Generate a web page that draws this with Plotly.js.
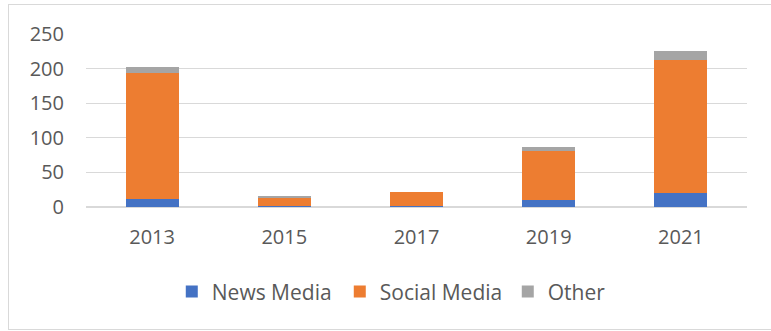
<!DOCTYPE html>
<html>
<head>
<meta charset="utf-8">
<script src="https://cdn.plot.ly/plotly-3.0.1.min.js"></script>
<style>
  html, body { margin: 0; padding: 0; background: #ffffff; overflow: hidden; }
  #wrap { position: relative; width: 771px; height: 331px; }
  #chart { position: absolute; left: 0; top: 0; width: 771px; height: 331px; }
  #frame { position: absolute; left: 8px; top: 4px; width: 800px; height: 326px;
           border: 1.5px solid #d9d9d9; pointer-events: none; box-sizing: border-box; }
</style>
</head>
<body>
<div id="wrap">
  <div id="chart"></div>
  <div id="frame"></div>
</div>
<script>
const years = ['2013', '2015', '2017', '2019', '2021'];
const newsMedia = [12, 1, 2, 10, 20];
const socialMedia = [181, 12, 19, 71, 193];
const other = [10, 3, 1, 5, 13];
const yTicks = [0, 50, 100, 150, 200, 250];

const font = 'Open Sans, Noto Sans, sans-serif';
const textColor = '#595959';

const traces = [
  { type: 'bar', name: 'News Media', x: years, y: newsMedia, marker: { color: '#4472C4' } },
  { type: 'bar', name: 'Social Media', x: years, y: socialMedia, marker: { color: '#ED7D31' } },
  { type: 'bar', name: 'Other', x: years, y: other, marker: { color: '#A5A5A5' } }
];

const layout = {
  width: 771,
  height: 331,
  barmode: 'stack',
  bargap: 0.6,
  margin: { l: 86, r: 24, t: 34, b: 124, pad: 0 },
  paper_bgcolor: '#ffffff',
  plot_bgcolor: '#ffffff',
  font: { family: font, size: 20, color: textColor },
  showlegend: true,
  legend: {
    orientation: 'h',
    xref: 'container', yref: 'container',
    x: 0.2228, xanchor: 'left',
    y: 0.118, yanchor: 'middle',
    entrywidth: 123,
    entrywidthmode: 'pixels',
    font: { family: font, size: 21, color: textColor },
    traceorder: 'normal',
    itemclick: false
  },
  xaxis: {
    type: 'category',
    showgrid: false,
    showline: false,
    zeroline: false,
    ticks: '',
    ticklabelstandoff: 16,
    tickfont: { family: font, size: 20, color: textColor },
    fixedrange: true
  },
  yaxis: {
    range: [0, 250],
    tickvals: yTicks,
    ticktext: yTicks.map(String),
    showgrid: true,
    gridcolor: '#d9d9d9',
    gridwidth: 1.3,
    zeroline: true,
    zerolinecolor: '#d9d9d9',
    zerolinewidth: 1.3,
    showline: false,
    ticks: '',
    ticklabelstandoff: 21,
    tickfont: { family: font, size: 20, color: textColor },
    fixedrange: true
  },
  hovermode: false
};

Plotly.newPlot('chart', traces, layout, { displayModeBar: false, staticPlot: true });
</script>
</body>
</html>
